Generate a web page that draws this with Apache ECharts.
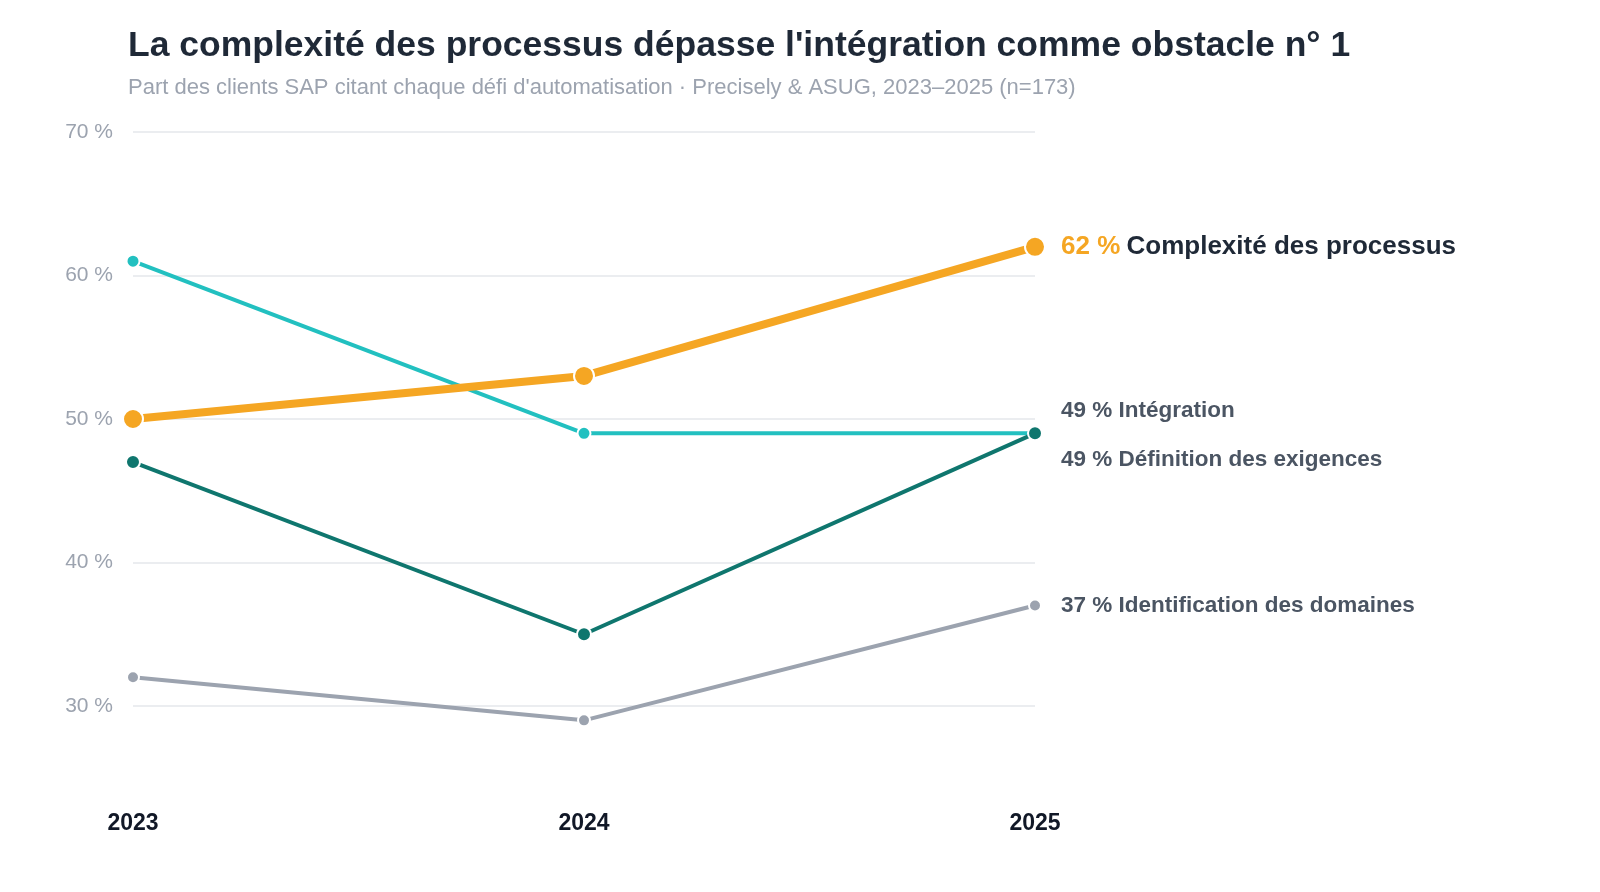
<!DOCTYPE html>
<html><head><meta charset="utf-8">
<script src="https://cdn.jsdelivr.net/npm/echarts@6/dist/echarts.min.js"></script>
<style>html,body{margin:0;padding:0;background:#fff}#c{width:1600px;height:892px}</style>
</head><body><div id="c"></div>
<script>
var years = ['2023', '2024', '2025'];
var complexite = [50, 53, 62];
var integration = [61, 49, 49];
var definition = [47, 35, 49];
var identification = [32, 29, 37];
var yTicks = [30, 40, 50, 60, 70];

var chart = echarts.init(document.getElementById('c'));
var font = 'Liberation Sans, Arial, sans-serif';

function line(name, data, color, width, sym, lbl, off, z) {
    return {
        name: name, type: 'line', data: data, z: z, clip: false,
        symbol: 'circle', symbolSize: sym,
        lineStyle: { color: color, width: width },
        itemStyle: { color: color, borderColor: '#fff', borderWidth: 2 },
        endLabel: {
            show: true, distance: 26, offset: off,
            formatter: lbl,
            fontFamily: font, fontSize: 22.5, fontWeight: 'bold', color: '#4b5563',
            rich: {
                o: { color: '#f5a623', fontSize: 26, fontWeight: 'bold', fontFamily: font },
                k: { color: '#1f2937', fontSize: 26, fontWeight: 'bold', fontFamily: font }
            }
        }
    };
}

var option = {
    animation: false,
    title: {
        text: "La complexité des processus dépasse l'intégration comme obstacle n° 1",
        subtext: "Part des clients SAP citant chaque défi d'automatisation · Precisely & ASUG, 2023–2025 (n=173)",
        left: 123, top: 23, itemGap: 13,
        textStyle: { fontFamily: font, fontSize: 35.5, fontWeight: 'bold', color: '#1f2937' },
        subtextStyle: { fontFamily: font, fontSize: 22, color: '#9ca3af' }
    },
    grid: { left: 133, right: 565, top: 132, bottom: 186 },
    xAxis: {
        type: 'category', data: years, boundaryGap: false,
        axisLine: { show: false }, axisTick: { show: false },
        axisLabel: { margin: 106, fontFamily: font, fontSize: 23, fontWeight: 'bold', color: '#111827' }
    },
    yAxis: {
        type: 'value', min: yTicks[0], max: yTicks[yTicks.length - 1], interval: 10,
        axisLabel: { margin: 20, fontFamily: font, fontSize: 21, color: '#9ca3af', formatter: '{value} %' },
        splitLine: { lineStyle: { color: '#e5e7eb', width: 1.5 } }
    },
    series: [
        line('Identification des domaines', identification, '#9ca3af', 4, 12,
            function (p) { return p.value + ' % Identification des domaines'; }, [0, 0], 2),
        line('Définition des exigences', definition, '#0f766e', 4, 14,
            function (p) { return p.value + ' % Définition des exigences'; }, [0, 26], 3),
        line('Intégration', integration, '#22c0c0', 4, 13,
            function (p) { return p.value + ' % Intégration'; }, [0, -23], 2),
        line('Complexité des processus', complexite, '#f5a623', 8, 20,
            function (p) { return '{o|' + p.value + ' %} {k|Complexité des processus}'; }, [0, 0], 4)
    ]
};
chart.setOption(option);
</script></body></html>
